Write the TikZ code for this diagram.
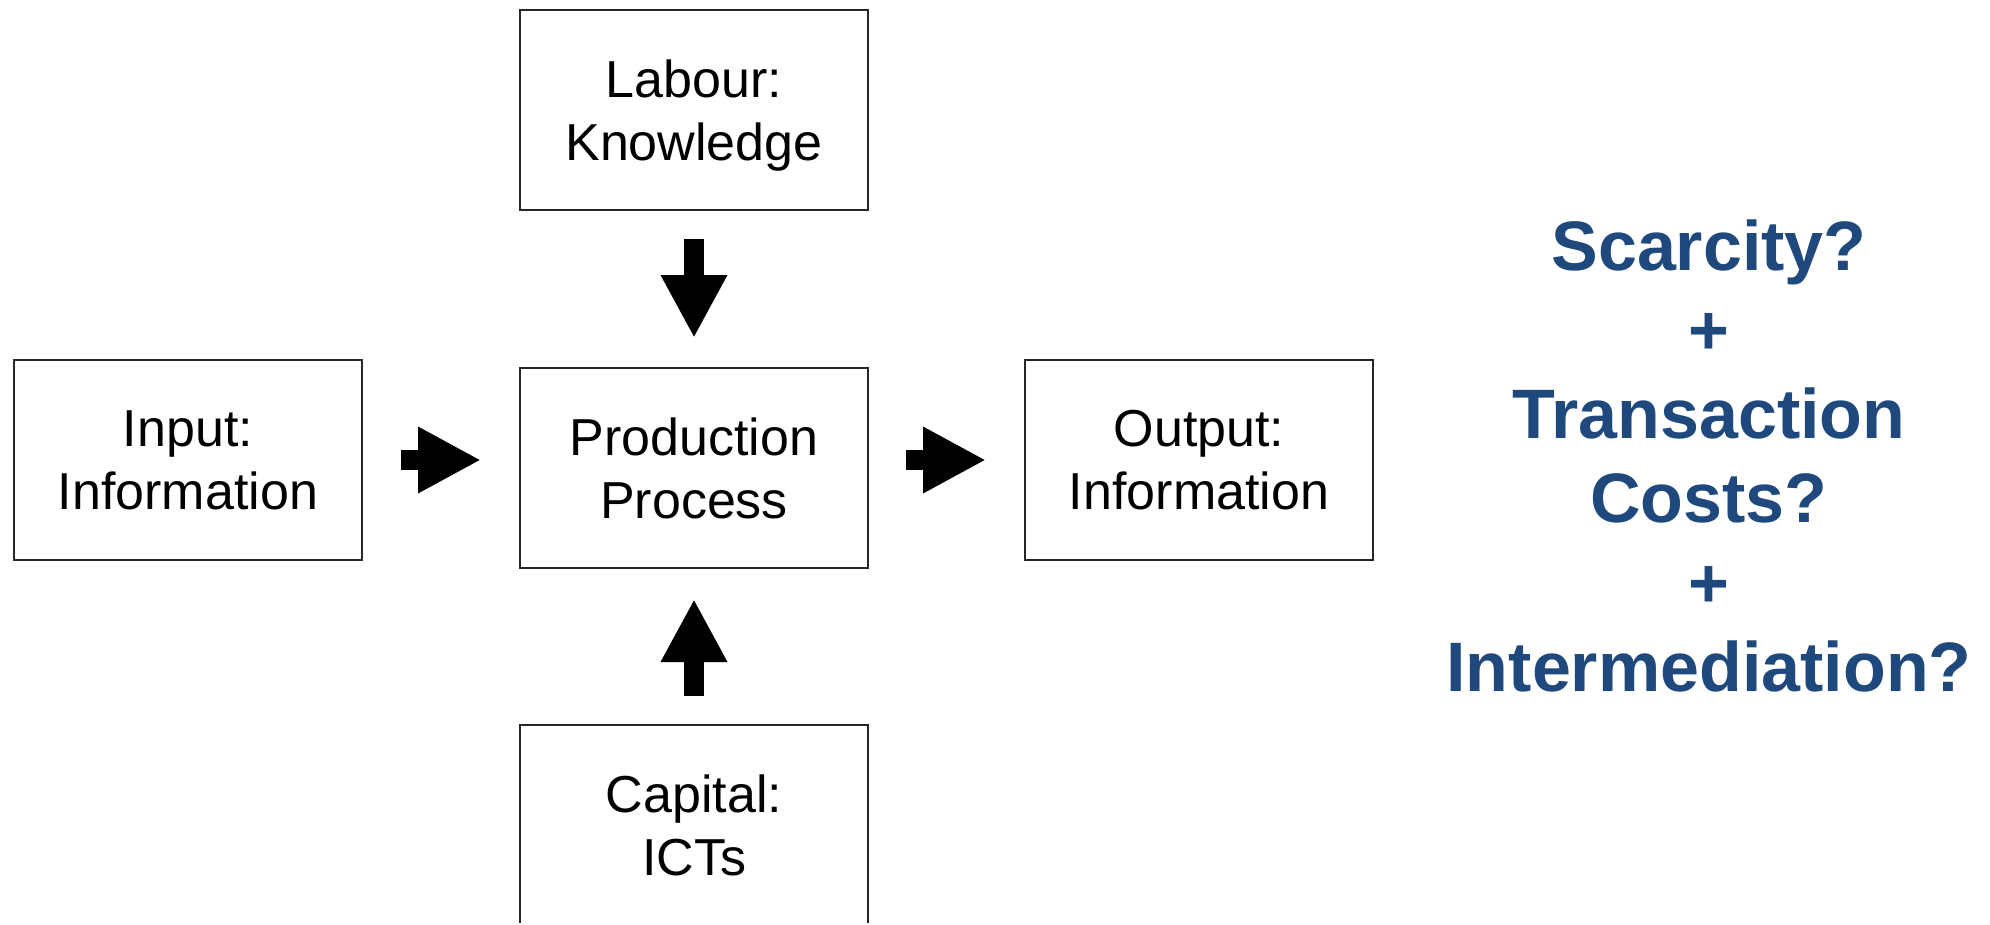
\documentclass[tikz,border=0pt]{standalone}
\usepackage{fontspec}
\setmainfont{Liberation Sans}
\usetikzlibrary{arrows.meta}
\definecolor{tblue}{HTML}{1F497D}
\begin{document}
\begin{tikzpicture}[x=0.5pt,y=-0.5pt,
  box/.style={draw=black!85, line width=1pt, minimum width=174pt, minimum height=100pt,
    inner sep=0pt, align=center, font=\fontsize{26}{31.5}\selectfont, text depth=0pt},
  flow/.style={line width=10pt, -{Triangle[width=31pt,length=31.5pt]}},
  question/.style={align=center, text=tblue, font=\bfseries\fontsize{35}{42.15}\selectfont}]
\useasboundingbox (0,0) rectangle (1990,925);
\clip (0,0) rectangle (1990,922);
\node[box] (lab) at (694,110.5) {Labour:\\Knowledge};
\node[box] (in) at (188,460) {Input:\\Information};
\node[box] (prod) at (694,468) {Production\\Process};
\node[box] (out) at (1199,460) {Output:\\Information};
\node[box] (cap) at (694,825) {Capital:\\ICTs};
\node[question, anchor=base] (q) at (1709,691.5) {Scarcity?\\+\\Transaction\\Costs?\\+\\Intermediation?};
\draw[flow, shorten <=14pt, shorten >=14.5pt] (lab) -- (prod);
\draw[flow, shorten <=14pt, shorten >=15pt] (cap) -- (prod);
\draw[flow, shorten <=19pt, shorten >=19pt] (in.east) -- (in.east -| prod.west);
\draw[flow, shorten <=18.5pt, shorten >=19pt] (prod.east |- out.west) -- (out.west);
\end{tikzpicture}
\end{document}
